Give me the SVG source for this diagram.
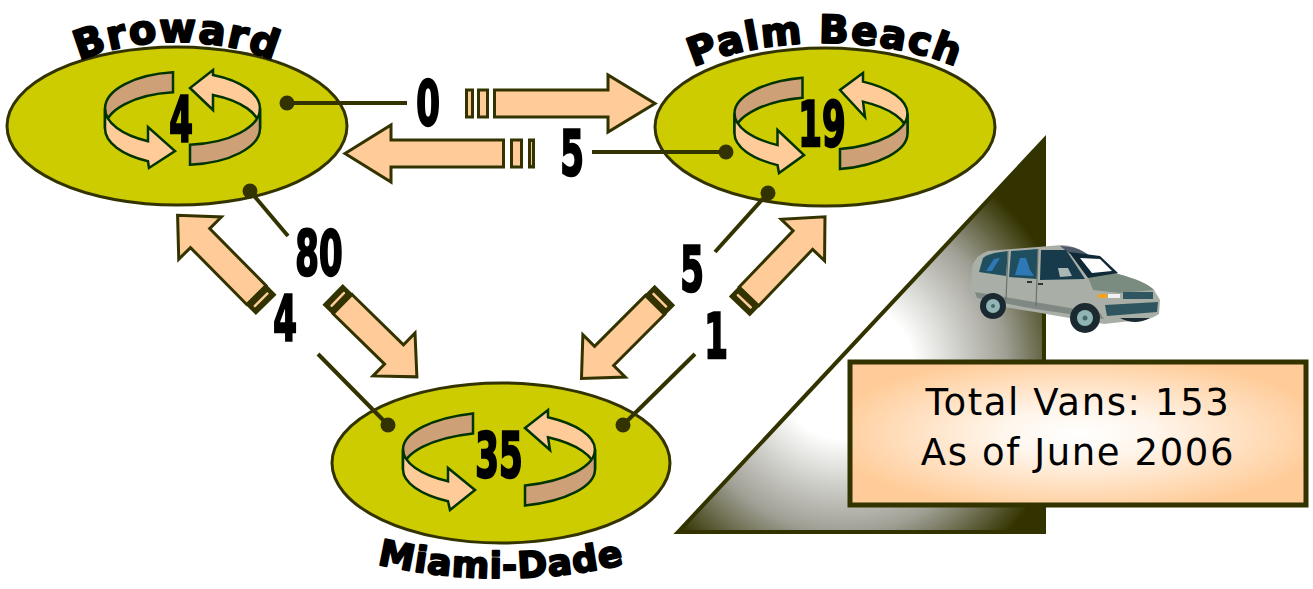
<svg xmlns="http://www.w3.org/2000/svg" width="1313" height="589" viewBox="0 0 1313 589">
  <defs>
    <radialGradient id="wedgeShade" gradientUnits="userSpaceOnUse" cx="845" cy="370" r="230">
      <stop offset="0" stop-color="#ffffff"/>
      <stop offset="0.3" stop-color="#ffffff"/>
      <stop offset="0.7" stop-color="#a0a096"/>
      <stop offset="1" stop-color="#333300"/>
    </radialGradient>
    <radialGradient id="boxShade" cx="0.5" cy="0.5" r="0.55">
      <stop offset="0" stop-color="#ffffff"/>
      <stop offset="0.3" stop-color="#fff6ec"/>
      <stop offset="1" stop-color="#ffcc99"/>
    </radialGradient>
    <path id="arcBroward" d="M22,126 A155,84 0 0 1 332,126"/>
    <path id="arcPalm" d="M637,127 A188,84 0 0 1 1013,127"/>
    <path id="arcMiami" d="M250,470 A251,108 0 0 0 752,470"/>
  </defs>
  <style>
    .county { fill: #cccc00; stroke: #333300; stroke-width: 3; }
    .title { font-family: "DejaVu Sans", "Liberation Sans", sans-serif; font-weight: bold; fill: #000; stroke: #000; stroke-width: 2; stroke-linejoin: round; }
    .num { font-family: "DejaVu Sans Condensed", "DejaVu Sans", sans-serif; font-weight: bold; font-size: 63px; text-anchor: middle; fill: #000; stroke: #000; stroke-width: 2.4; }
    .tan { fill: #cda078; stroke: #003300; stroke-width: 2.5; stroke-linejoin: miter; }
    .peach { fill: #ffcc99; stroke: #003300; stroke-width: 2.5; stroke-linejoin: miter; }
    .dot { fill: #333300; }
    .lead { stroke: #333300; stroke-width: 4; fill: none; }
    .flow { fill: #ffcc99; stroke: #333300; stroke-width: 3; }
    .tail { fill: #333300; stroke: #333300; stroke-width: 2; }
    .glint { fill: #ffcc99; }
    .info { font-family: "DejaVu Sans", "Open Sans", sans-serif; font-size: 37px; letter-spacing: 1.6px; text-anchor: middle; fill: #000; }
  </style>

  <!-- fleet total panel -->
  <g id="summary">
    <polygon points="678,532 1044,140 1044,532" fill="url(#wedgeShade)" stroke="#333300" stroke-width="4"/>
    <g id="van">
      <path d="M972,268 Q974,256 988,251 L1062,245 Q1075,246 1084,252 L1118,274 Q1145,281 1154,290 L1160,300 L1159,314 Q1150,320 1140,320 L1104,324 L1035,312 L985,304 Q972,302 970,295 Z" fill="#a9aea6"/>
      <path d="M1060,246 Q1075,246 1084,252 L1100,262 L1070,254 Z" fill="#4d5a6a"/>
      <path d="M1082,262 L1118,274 Q1145,281 1154,290 L1120,293 L1093,290 Z" fill="#7a8c80"/>
      <path d="M975,292 L1040,303 L1100,313 L1104,319 L1035,309 L977,298 Z" fill="#7f8882"/>
      <path d="M979,272 L983,258 Q988,253 1008,251 L1006,276 Z" fill="#1f4f5f"/>
      <path d="M1011,251 L1038,249 L1037,279 L1009,277 Z" fill="#1f4f5f"/>
      <path d="M1041,250 L1066,250 L1085,279 L1040,280 Z" fill="#173b4a"/>
      <path d="M1069,252 L1100,256 L1118,273 L1088,278 Z" fill="#0f2a36"/>
      <path d="M1080,258 L1100,259 L1112,271 L1092,273 Z" fill="#ffffff"/>
      <path d="M1058,268 L1068,268 L1072,276 L1060,277 Z" fill="#a9b8b4"/>
      <path d="M986,271 L994,259 L1000,258 L992,271 Z" fill="#2f78b8"/>
      <path d="M1015,275 L1020,258 L1026,258 L1030,270 L1034,276 Z" fill="#2f78b8"/>
      <line x1="1008" y1="251" x2="1006" y2="300" stroke="#6a716c" stroke-width="1.2"/>
      <line x1="1038" y1="249" x2="1036" y2="306" stroke="#6a716c" stroke-width="1.2"/>
      <rect x="1027" y="281" width="5" height="2" fill="#333"/>
      <rect x="1038" y="283" width="5" height="2" fill="#333"/>
      <circle cx="993" cy="306" r="13" fill="#1a2a30"/>
      <circle cx="993" cy="306" r="7" fill="#8fb5b5"/>
      <circle cx="993" cy="306" r="2" fill="#4a6a6a"/>
      <circle cx="1085" cy="318" r="15" fill="#1a2a30"/>
      <circle cx="1085" cy="318" r="8" fill="#8fb5b5"/>
      <circle cx="1085" cy="318" r="2.5" fill="#4a6a6a"/>
      <rect x="1098" y="294" width="9" height="4" fill="#f7a21b"/>
      <rect x="1108" y="294" width="12" height="4" fill="#f0f0f0"/>
      <rect x="1123" y="292" width="30" height="7" fill="#2e5560"/>
      <path d="M1105,305 L1158,302 L1157,312 L1107,316 Z" fill="#2e5560"/>
      <path d="M1120,318 Q1135,326 1150,318 Z" fill="#1a2a30"/>
    </g>
    <rect x="850" y="362" width="456" height="143" fill="url(#boxShade)" stroke="#333300" stroke-width="5"/>
    <text class="info" x="1078" y="415">Total Vans: 153</text>
    <text class="info" x="1078" y="465">As of June 2006</text>
  </g>

  <!-- Broward -->
  <g id="broward">
    <ellipse class="county" cx="177" cy="126" rx="170" ry="79"/>
    <path class="tan" d="M173,72.3 A77.5,36.5 0 0 0 105,108.5 L105,128.5 A77.5,36.5 0 0 1 173,92.3 Z"/>
    <path class="peach" d="M260,108.5 A77.5,36.5 0 0 0 213,74.9 L213,70 L190,88 L213,110 L213,94.9 A77.5,36.5 0 0 1 260,128.5 Z"/>
    <path class="peach" d="M105,108.5 A77.5,36.5 0 0 0 148,141.2 L148,127 L175,151 L149,168 L148,161.2 A77.5,36.5 0 0 1 105,128.5 Z"/>
    <path class="tan" d="M190,144.8 A77.5,36.5 0 0 0 260,108.5 L260,128.5 A77.5,36.5 0 0 1 190,164.8 Z"/>
    <text class="num" transform="translate(181,141) scale(0.6,1)">4</text>
    <text class="title" font-size="40" letter-spacing="1.5"><textPath href="#arcBroward" startOffset="50%" text-anchor="middle">Broward</textPath></text>
    <circle class="dot" cx="287" cy="103" r="7.5"/>
    <circle class="dot" cx="250" cy="191" r="7.5"/>
  </g>

  <!-- Palm Beach -->
  <g id="palm-beach">
    <ellipse class="county" cx="825" cy="127" rx="170" ry="79"/>
    <path class="tan" d="M802.5,77.8 A86.5,36.5 0 0 0 734.5,113.5 L734.5,133.5 A86.5,36.5 0 0 1 802.5,97.8 Z"/>
    <path class="peach" d="M907.5,113.5 A86.5,36.5 0 0 0 863,81.6 L863,73 L840,90 L865,117 L863,101.6 A86.5,36.5 0 0 1 907.5,133.5 Z"/>
    <path class="peach" d="M734.5,113.5 A86.5,36.5 0 0 0 777.5,145.1 L777.5,130 L804,155 L779,173 L777.5,165.1 A86.5,36.5 0 0 1 734.5,133.5 Z"/>
    <path class="tan" d="M840,149.1 A86.5,36.5 0 0 0 907.5,113.5 L907.5,133.5 A86.5,36.5 0 0 1 840,169.1 Z"/>
    <text class="num" transform="translate(822,146) scale(0.6,1)">19</text>
    <text class="title" font-size="39" letter-spacing="1.5"><textPath href="#arcPalm" startOffset="50%" text-anchor="middle">Palm Beach</textPath></text>
    <circle class="dot" cx="726" cy="152" r="7.5"/>
    <circle class="dot" cx="768" cy="193" r="7.5"/>
  </g>

  <!-- Miami-Dade -->
  <g id="miami-dade">
    <ellipse class="county" cx="501" cy="463" rx="169" ry="80"/>
    <path class="tan" d="M473,413.4 A96,37.5 0 0 0 403,449.5 L403,469.5 A96,37.5 0 0 1 473,433.4 Z"/>
    <path class="peach" d="M595,449.5 A96,37.5 0 0 0 548,417.3 L548,410 L525,428 L550,450 L548,437.3 A96,37.5 0 0 1 595,469.5 Z"/>
    <path class="peach" d="M403,449.5 A96,37.5 0 0 0 448,481.3 L448,468 L475,490 L450,510 L448,501.3 A96,37.5 0 0 1 403,469.5 Z"/>
    <path class="tan" d="M525,485.6 A96,37.5 0 0 0 595,449.5 L595,469.5 A96,37.5 0 0 1 525,505.6 Z"/>
    <text class="num" transform="translate(499,477) scale(0.6,1)">35</text>
    <text class="title" font-size="36" letter-spacing="0.8" stroke-width="1.4"><textPath href="#arcMiami" startOffset="50%" text-anchor="middle">Miami-Dade</textPath></text>
    <circle class="dot" cx="388" cy="425" r="7.5"/>
    <circle class="dot" cx="623" cy="425" r="7.5"/>
  </g>

  <!-- transfers between counties, with counts -->
  <g id="connectors">
    <!-- Broward to Palm Beach -->
    <rect class="flow" x="466.5" y="90" width="6" height="27"/>
    <rect class="flow" x="478.5" y="90" width="9" height="27"/>
    <polygon class="flow" points="494.5,90 608,90 608,75 655,103.5 608,132 608,117 494.5,117"/>
    <line class="lead" x1="287" y1="103" x2="407" y2="103"/>
    <text class="num" transform="translate(428,125) scale(0.6,1)">0</text>

    <!-- Palm Beach to Broward -->
    <polygon class="flow" points="345,153.5 391,125 391,140 503.5,140 503.5,167 391,167 391,182"/>
    <rect class="flow" x="511.5" y="140" width="10" height="27"/>
    <rect class="flow" x="529.5" y="140" width="4" height="27"/>
    <line class="lead" x1="592" y1="152" x2="726" y2="152"/>
    <text class="num" transform="translate(572,175) scale(0.6,1)">5</text>

    <!-- Miami-Dade to Broward -->
    <g transform="translate(265.5,304.2) rotate(-134.7)">
      <polygon class="flow" points="13,-13.5 93,-13.5 93,-30 125,0 93,30 93,13.5 13,13.5"/>
      <rect class="tail" x="0" y="-13.5" width="13" height="27"/>
      <rect class="glint" x="5" y="-10" width="2.5" height="20" rx="1"/>
    </g>
    <!-- Broward to Miami-Dade -->
    <g transform="translate(333.3,295) rotate(44.4)">
      <polygon class="flow" points="13,-13.5 85,-13.5 85,-30 117,0 85,30 85,13.5 13,13.5"/>
      <rect class="tail" x="0" y="-13.5" width="13" height="27"/>
      <rect class="glint" x="5" y="-10" width="2.5" height="20" rx="1"/>
    </g>
    <line class="lead" x1="250" y1="191" x2="288" y2="236"/>
    <line class="lead" x1="318" y1="354" x2="388" y2="425"/>
    <text class="num" transform="translate(319,275) scale(0.6,1)">80</text>
    <text class="num" transform="translate(285,340) scale(0.6,1)">4</text>

    <!-- Palm Beach to Miami-Dade -->
    <g transform="translate(664.2,295.8) rotate(135)">
      <polygon class="flow" points="13,-13.5 85,-13.5 85,-30 117,0 85,30 85,13.5 13,13.5"/>
      <rect class="tail" x="0" y="-13.5" width="13" height="27"/>
      <rect class="glint" x="5" y="-10" width="2.5" height="20" rx="1"/>
    </g>
    <!-- Miami-Dade to Palm Beach -->
    <g transform="translate(740,305.8) rotate(-46.3)">
      <polygon class="flow" points="13,-13.5 91,-13.5 91,-30 123,0 91,30 91,13.5 13,13.5"/>
      <rect class="tail" x="0" y="-13.5" width="13" height="27"/>
      <rect class="glint" x="5" y="-10" width="2.5" height="20" rx="1"/>
    </g>
    <line class="lead" x1="768" y1="193" x2="715" y2="252"/>
    <line class="lead" x1="695" y1="354" x2="623" y2="425"/>
    <text class="num" transform="translate(692,291) scale(0.6,1)">5</text>
    <text class="num" transform="translate(716,358) scale(0.6,1)">1</text>
  </g>
</svg>
